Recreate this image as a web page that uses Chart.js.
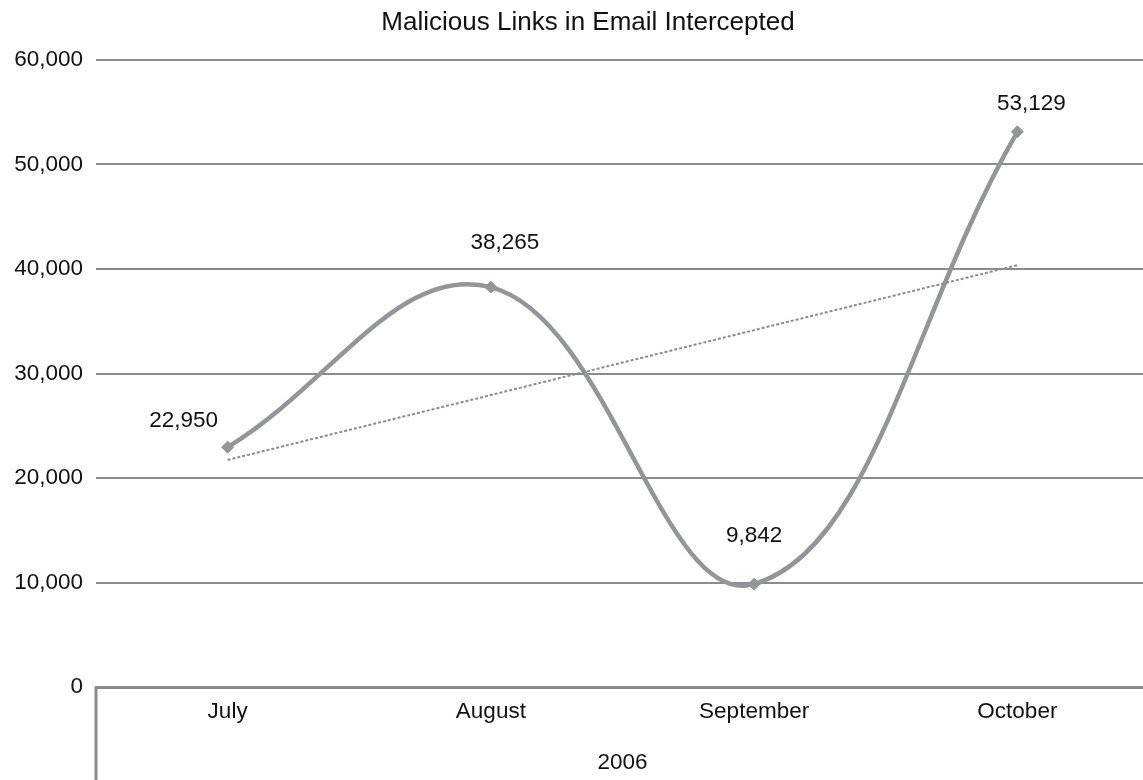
<!DOCTYPE html>
<html lang="en">
<head>
    <meta charset="UTF-8">
    <title>Malicious Links in Email Intercepted</title>
    <script src="https://cdn.jsdelivr.net/npm/chart.js"></script>
    <style>
        html, body { margin: 0; padding: 0; background: #fff; overflow: hidden; }
        #linksChart { display: block; }
    </style>
</head>
<body>
    <canvas id="linksChart" width="1156" height="780"></canvas>
    <script>
        // chart data
        var chartTitle = 'Malicious Links in Email Intercepted';
        var months = ['July', 'August', 'September', 'October'];
        var yearLabel = '2006';
        var linksIntercepted = [22950, 38265, 9842, 53129];
        var trendValues = [21729, 27941, 34152, 40364];
        var yMin = 0, yMax = 60000, yStep = 10000;

        var axisGray = '#8a8b8e';
        var lineGray = '#939598';
        var textColor = '#111';
        var fontFamily = '"Liberation Sans", Arial, sans-serif';

        // title, value labels and the category group divider
        var extrasPlugin = {
            id: 'extras',
            afterDraw: function (chart) {
                var ctx = chart.ctx;
                var area = chart.chartArea;
                ctx.save();

                ctx.fillStyle = textColor;
                ctx.font = '26px ' + fontFamily;
                ctx.textAlign = 'center';
                ctx.textBaseline = 'alphabetic';
                ctx.fillText(chartTitle, 588, 30);

                // group line under the category axis
                ctx.strokeStyle = axisGray;
                ctx.lineWidth = 3;
                ctx.beginPath();
                ctx.moveTo(area.left, area.bottom);
                ctx.lineTo(area.left, chart.height);
                ctx.stroke();

                // value labels above each point
                var shift = [[-44, -26], [14, -44], [0, -48], [14, -28]];
                var meta = chart.getDatasetMeta(0);
                ctx.font = '22.5px ' + fontFamily;
                ctx.textBaseline = 'middle';
                meta.data.forEach(function (pt, i) {
                    var txt = linksIntercepted[i].toLocaleString('en-US');
                    ctx.fillText(txt, pt.x + shift[i][0], pt.y + shift[i][1]);
                });
                ctx.restore();
            }
        };

        var ctx = document.getElementById('linksChart').getContext('2d');
        new Chart(ctx, {
            type: 'line',
            data: {
                labels: months,
                datasets: [
                    {
                        label: 'Links intercepted',
                        data: linksIntercepted,
                        borderColor: lineGray,
                        backgroundColor: lineGray,
                        borderWidth: 4.5,
                        tension: 0.4,
                        pointStyle: 'rectRot',
                        pointRadius: 6,
                        pointBorderWidth: 1,
                        fill: false,
                        order: 2
                    },
                    {
                        label: 'Trend',
                        data: trendValues,
                        borderColor: '#8c8c8c',
                        borderWidth: 2,
                        borderDash: [3, 2],
                        tension: 0,
                        pointRadius: 0,
                        fill: false,
                        order: 1
                    }
                ]
            },
            options: {
                responsive: false,
                animation: false,
                layout: { padding: { top: 60, right: 0, left: 0, bottom: 0 } },
                plugins: {
                    legend: { display: false },
                    title: { display: false },
                    tooltip: { enabled: false }
                },
                scales: {
                    x: {
                        offset: true,
                        grid: { display: false, drawTicks: false },
                        border: { display: true, color: axisGray, width: 3 },
                        ticks: {
                            color: textColor,
                            font: { family: fontFamily, size: 22.5 },
                            padding: 11
                        },
                        title: {
                            display: true,
                            text: yearLabel,
                            color: textColor,
                            font: { family: fontFamily, size: 22.5 },
                            padding: { top: 17 }
                        },
                        afterFit: function (scale) { scale.height = 93; }
                    },
                    y: {
                        min: yMin,
                        max: yMax,
                        grid: { color: axisGray, lineWidth: 2, drawTicks: false },
                        border: { display: false },
                        ticks: {
                            stepSize: yStep,
                            color: textColor,
                            font: { family: fontFamily, size: 22.5 },
                            padding: 13,
                            callback: function (v) { return v.toLocaleString('en-US'); }
                        },
                        afterFit: function (scale) { scale.width = 96; }
                    }
                }
            },
            plugins: [extrasPlugin]
        });
    </script>
</body>
</html>
